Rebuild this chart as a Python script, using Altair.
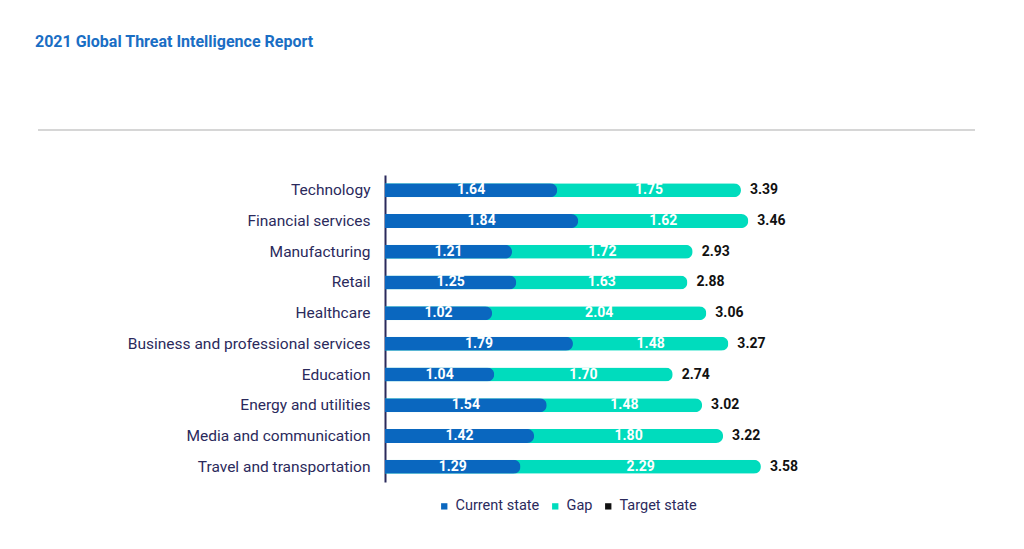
import altair as alt
import pandas as pd

categories = ["Technology", "Financial services", "Manufacturing", "Retail", "Healthcare",
              "Business and professional services", "Education", "Energy and utilities",
              "Media and communication", "Travel and transportation"]
current_state = [1.64, 1.84, 1.21, 1.25, 1.02, 1.79, 1.04, 1.54, 1.42, 1.29]
gap = [1.75, 1.62, 1.72, 1.63, 2.04, 1.48, 1.70, 1.48, 1.80, 2.29]
target_state = [3.39, 3.46, 2.93, 2.88, 3.06, 3.27, 2.74, 3.02, 3.22, 3.58]
series_names = ["Current state", "Gap", "Target state"]
series_colors = ["#0a67bf", "#00dcbd", "#111111"]

df = pd.DataFrame({
    "category": categories,
    "current": current_state,
    "gap": gap,
    "target": target_state,
})
df["gap_mid"] = (df["current"] + df["target"]) / 2
df["cur_mid"] = df["current"] / 2
df["current_lbl"] = [f"{v:.2f}" for v in current_state]
df["gap_lbl"] = [f"{v:.2f}" for v in gap]
df["target_lbl"] = [f"{v:.2f}" for v in target_state]

FONT = "Roboto"
xs = alt.Scale(domain=[0, 4])
y = alt.Y("category:N", sort=categories, title=None,
          scale=alt.Scale(paddingInner=0.54, paddingOuter=0.27),
          axis=alt.Axis(domain=True, domainColor="#2b2a5c", domainWidth=2, ticks=False,
                        labelFont=FONT, labelFontSize=15.5, labelColor="#2b2a5c",
                        labelPadding=15, labelLimit=400))
color = alt.Color("series:N", scale=alt.Scale(domain=series_names, range=series_colors),
                  legend=alt.Legend(title=None, orient="none", legendX=52, legendY=324,
                                    direction="horizontal", symbolType="square",
                                    symbolSize=40, labelFont=FONT, labelFontSize=14.5,
                                    labelColor="#2b2a5c", columnPadding=8,
                                    symbolOffset=0, labelOffset=4))

base = alt.Chart(df)
xaxis = alt.X("target:Q", scale=xs, axis=None, title=None)

gap_bar = base.transform_calculate(series="'Gap'").mark_bar(
    cornerRadiusEnd=7, height=14).encode(x=xaxis, y=y, color=color)
cur_bar = base.transform_calculate(series="'Current state'").mark_bar(
    cornerRadiusEnd=7, height=14).encode(
    x=alt.X("current:Q", scale=xs, axis=None), y=y, color=color)
cur_txt = base.mark_text(color="white", font=FONT, fontSize=14, fontWeight="bold").encode(
    x=alt.X("cur_mid:Q", scale=xs), y=y, text="current_lbl:N")
gap_txt = base.mark_text(color="white", font=FONT, fontSize=14, fontWeight="bold").encode(
    x=alt.X("gap_mid:Q", scale=xs), y=y, text="gap_lbl:N")
tot_txt = base.mark_text(color="#111111", font=FONT, fontSize=14, fontWeight="bold",
                         align="left", dx=9).encode(
    x=alt.X("target:Q", scale=xs), y=y, text="target_lbl:N")

title_txt = alt.Chart(pd.DataFrame({"t": ["2021 Global Threat Intelligence Report"]})).mark_text(
    font=FONT, fontSize=16, fontWeight="bold", color="#1a6ec4", align="left",
    baseline="middle").encode(x=alt.value(-350), y=alt.value(-133), text="t:N")
rule = alt.Chart(pd.DataFrame({"a": [0]})).mark_rule(color="#c8c8c8", strokeWidth=1.5).encode(
    x=alt.value(-347), x2=alt.value(590), y=alt.value(-45))

chart = alt.layer(gap_bar, cur_bar, cur_txt, gap_txt, tot_txt, title_txt, rule).properties(
    width=420, height=307,
    autosize=alt.AutoSizeParams(type="none"),
    padding={"left": 377, "top": 167, "right": 210, "bottom": 50},
).configure_view(stroke=None)

chart.save("out.html", embed_options={"renderer": "svg", "actions": False})
